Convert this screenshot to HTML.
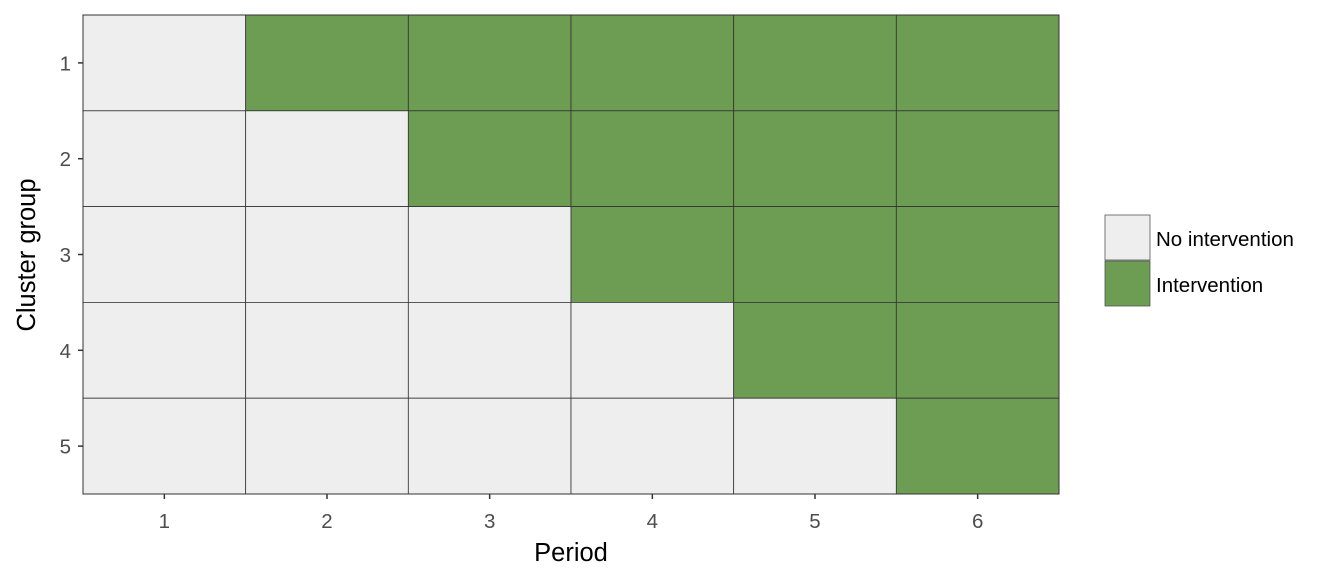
<!DOCTYPE html>
<html><head><meta charset="utf-8"><style>
body{margin:0;background:#fff;font-family:"Liberation Sans",Arial,sans-serif}
svg text{font-family:"Liberation Sans",Arial,sans-serif}
</style></head><body>
<svg id="c" width="1344" height="576" xmlns="http://www.w3.org/2000/svg"></svg>
<script>
const periods=[1,2,3,4,5,6];
const groups=[1,2,3,4,5];
// intervention start period for each cluster group
const startPeriod=[2,3,4,5,6];
const legendLabels=["No intervention","Intervention"];
const colors=["#EEEEEE","#6C9D53"];
const NS="http://www.w3.org/2000/svg";
const svg=document.getElementById('c');
const L=83,R=1059,T=15,B=494;
const cw=(R-L)/periods.length, rh=(B-T)/groups.length;
const xPos=p=>L+(periods.indexOf(p))*cw;
const yPos=g=>T+(groups.indexOf(g))*rh;
function mk(tag,attrs,txt){const e=document.createElementNS(NS,tag);for(const k in attrs)e.setAttribute(k,attrs[k]);if(txt!==undefined)e.textContent=txt;svg.appendChild(e);return e;}
groups.forEach((g,gi)=>{periods.forEach(p=>{
  const on=p>=startPeriod[gi]?1:0;
  const r=mk('rect',{x:xPos(p),y:yPos(g),width:cw,height:rh,fill:colors[on],stroke:'#333','stroke-width':0.8});
  
  
});});
mk('rect',{x:L,y:T,width:R-L,height:B-T,fill:'none',stroke:'#333','stroke-width':1});
periods.forEach(p=>{
  const cx=xPos(p)+cw/2;
  const l=mk('line',{x1:cx,x2:cx,y1:B,y2:B+5,stroke:'#333','stroke-width':1.5});
  
  
  const t=mk('text',{x:cx,y:528,'text-anchor':'middle','font-size':20.5,fill:'#4d4d4d'},p);
  
  
});
groups.forEach(g=>{
  const cy=yPos(g)+rh/2;
  const l=mk('line',{x1:L-5,x2:L,y1:cy,y2:cy,stroke:'#333','stroke-width':1.5});
  
  
  const t=mk('text',{x:71,y:cy+7.5,'text-anchor':'end','font-size':20.5,fill:'#4d4d4d'},g);
  
  
});
const xt=mk('text',{x:(L+R)/2,y:561,'text-anchor':'middle','font-size':25.5,fill:'#000'},'Period');


const yt=mk('text',{x:0,y:0,transform:'translate(35,255) rotate(-90)','text-anchor':'middle','font-size':25.5,fill:'#000'},'Cluster group');


legendLabels.forEach((lab,i)=>{
  const y=215+i*46;
  const k=mk('rect',{x:1105,y:y,width:45,height:45,fill:colors[i],stroke:'#555','stroke-width':0.8});
  
  
  const t=mk('text',{x:1156,y:y+31,'font-size':20.5,fill:'#000'},lab);
  
  
});
</script>
</body></html>
